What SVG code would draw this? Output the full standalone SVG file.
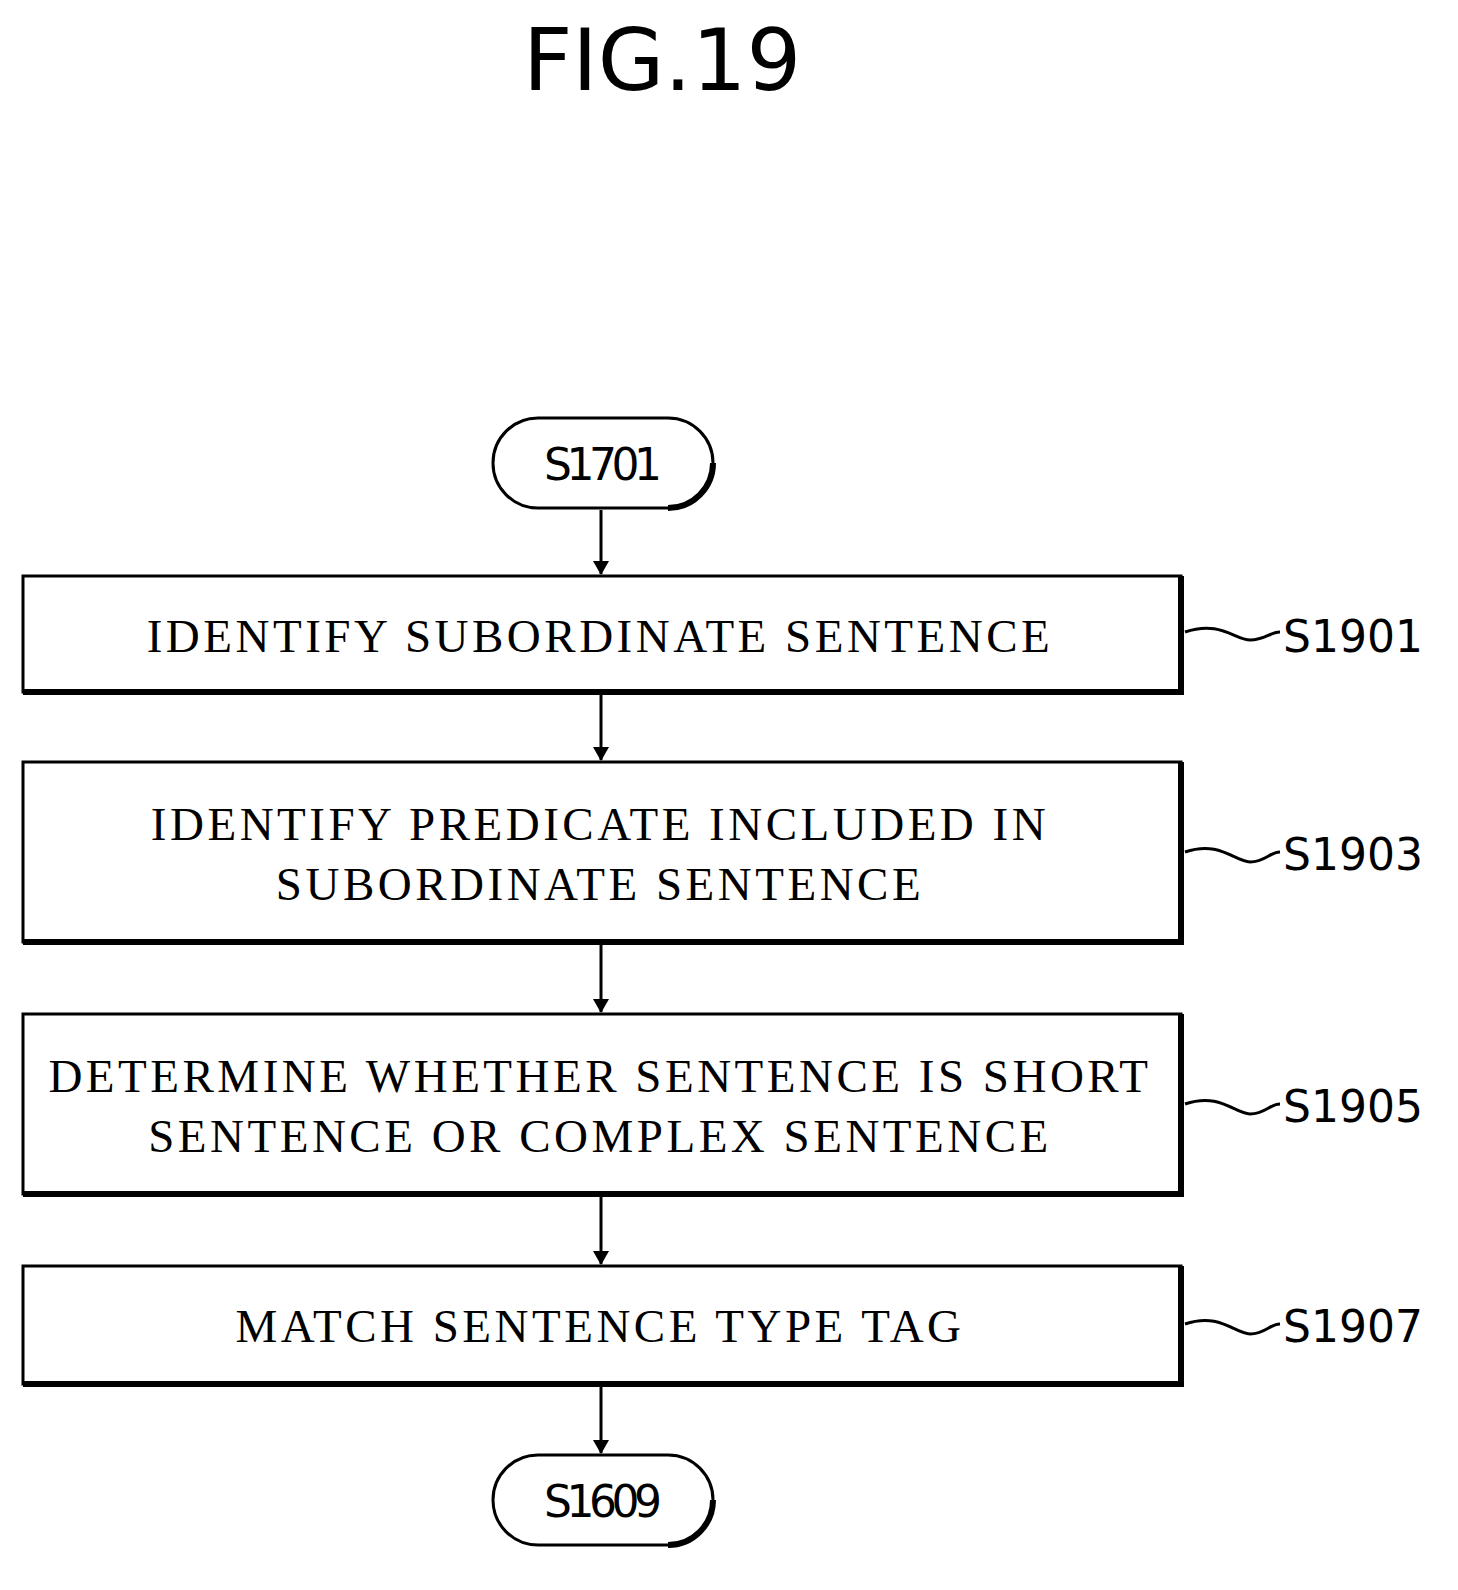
<svg xmlns="http://www.w3.org/2000/svg" width="1458" height="1590" viewBox="0 0 1458 1590">
<defs>
<style>
.box{fill:#fff;stroke:#000;stroke-width:3}
.sh{fill:none;stroke:#000;stroke-width:6}
.t{font-family:"Liberation Serif",serif;font-size:47px;text-anchor:middle;letter-spacing:3.5px}
.s{font-family:"DejaVu Sans",sans-serif;font-size:44px}
.ln{fill:none;stroke:#000;stroke-width:3}
</style>
<marker id="a" markerWidth="14" markerHeight="16" refX="13" refY="8" orient="auto" markerUnits="userSpaceOnUse" viewBox="0 0 14 16"><path d="M0,0L14,8L0,16z" fill="#000"/></marker>
</defs>
<rect width="1458" height="1590" fill="#fff"/>
<text x="662" y="90" font-family="DejaVu Sans,sans-serif" font-size="86" text-anchor="middle">FIG.19</text>
<g id="n0"><rect x="493" y="418" width="220" height="90" rx="45" class="box"/><path d="M713,463 A45,45 0 0 1 668,508" class="sh"/><text x="603" y="480" class="s" text-anchor="middle" textLength="118">S1701</text></g>
<g id="n1"><rect x="23" y="576" width="1158" height="116" class="box"/><path d="M1181,576V692H23" class="sh"/><text x="600" y="652" class="t">IDENTIFY SUBORDINATE SENTENCE</text><text x="1283" y="652" class="s">S1901</text></g>
<g id="n2"><rect x="23" y="762" width="1158" height="180" class="box"/><path d="M1181,762V942H23" class="sh"/><text x="600" y="840" class="t">IDENTIFY PREDICATE INCLUDED IN</text><text x="600" y="900" class="t">SUBORDINATE SENTENCE</text><text x="1283" y="870" class="s">S1903</text></g>
<g id="n3"><rect x="23" y="1014" width="1158" height="180" class="box"/><path d="M1181,1014V1194H23" class="sh"/><text x="600" y="1092" class="t">DETERMINE WHETHER SENTENCE IS SHORT</text><text x="600" y="1152" class="t">SENTENCE OR COMPLEX SENTENCE</text><text x="1283" y="1122" class="s">S1905</text></g>
<g id="n4"><rect x="23" y="1266" width="1158" height="118" class="box"/><path d="M1181,1266V1384H23" class="sh"/><text x="600" y="1342" class="t">MATCH SENTENCE TYPE TAG</text><text x="1283" y="1342" class="s">S1907</text></g>
<g id="n5"><rect x="493" y="1455" width="220" height="90" rx="45" class="box"/><path d="M713,1500 A45,45 0 0 1 668,1545" class="sh"/><text x="603" y="1517" class="s" text-anchor="middle" textLength="118">S1609</text></g>
<g id="c">
<path d="M601,510V574" class="ln" marker-end="url(#a)"/>
<path d="M601,695V760" class="ln" marker-end="url(#a)"/>
<path d="M601,945V1012" class="ln" marker-end="url(#a)"/>
<path d="M601,1197V1264" class="ln" marker-end="url(#a)"/>
<path d="M601,1387V1453" class="ln" marker-end="url(#a)"/>
<path d="M1185,632C1220,620 1235,640 1250,640S1270,632 1280,632" class="ln"/>
<path d="M1185,852C1220,840 1235,862 1250,862S1270,852 1280,852" class="ln"/>
<path d="M1185,1104C1220,1092 1235,1114 1250,1114S1270,1104 1280,1104" class="ln"/>
<path d="M1185,1324C1220,1312 1235,1334 1250,1334S1270,1324 1280,1324" class="ln"/>
</g>
</svg>
